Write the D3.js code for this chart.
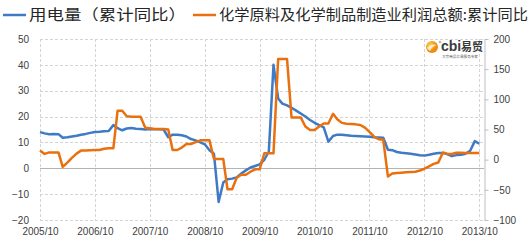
<!DOCTYPE html>
<meta charset="utf-8">
<head>
<script src="https://cdnjs.cloudflare.com/ajax/libs/d3/7.8.5/d3.min.js"></script>
<style>
	body { margin: 0; background: #fff; }
	svg text { font-family: "Liberation Sans", Arial, sans-serif; }
	.cjk { font-family: "Noto Sans CJK SC", sans-serif; }
</style>
</head>
<body>
<div id="chart"></div>
<script>

////////////////////////////////////
// DATA
////////////////////////////////////

const seriesNames = ['用电量（累计同比）', '化学原料及化学制品制造业利润总额:累计同比']

// monthly, 2005/10 .. 2013/10
const firstMonth = new Date(2005, 9, 1),
	endMonth = new Date(2013, 10, 1)

// left axis, %
const power = [
	14.0, 13.5, 13.2, 13.3, 13.2, 11.8, 12.0, 12.3, 12.6, 13.0, 13.3, 13.7,
	14.0, 14.1, 14.3, 14.4, 16.7, 15.5, 14.7, 15.4, 15.6, 15.3, 15.2, 15.0,
	15.2, 15.1, 15.1, 15.0, 12.0, 13.0, 13.0, 12.8, 12.3, 11.3, 10.8, 10.0,
	9.3, 7.0, 5.6, -13.0, -5.5, -4.2, -4.0, -3.5, -2.0, -0.8, 0.3, 0.9,
	1.5, 3.3, 6.5, 40.0, 27.0, 25.0, 24.3, 23.4, 22.3, 21.2, 20.0, 18.7,
	17.6, 16.7, 15.8, 10.3, 12.5, 13.0, 13.0, 12.8, 12.6, 12.5, 12.4, 12.3,
	12.2, 12.0, 11.9, 11.8, 7.2, 7.0, 6.3, 6.0, 5.8, 5.6, 5.3, 5.0,
	4.9, 5.2, 5.6, 5.9, 5.9, 5.5, 4.7, 5.1, 5.2, 5.6, 6.8, 10.5,
	9.5
]

// right axis, %
const chemProfit = [
	15, 9.5, 12, 12, 12, -12, -5, 3, 10, 15, 15, 15.5,
	16, 16, 18, 19, 19, 81, 81, 72, 71, 71, 71, 53,
	52, 51, 51, 51, 50, 16, 16, 20, 26, 26, 29, 32,
	32, 32, 1, 1, 1, -49, -49, -30, -25, -25, -20, -16,
	-16, 10.6, 10.6, 10.6, 167, 167, 167, 70, 70, 70, 55, 49,
	49, 55, 60, 60, 76, 67, 61, 59.5, 59, 58.5, 57.5, 53,
	46, 38, 34, 33, -28, -23, -22, -21.5, -21, -20.5, -20, -18,
	-15, -11, -7, -4.8, 12, 9.5, 9.5, 11.5, 11.3, 11, 11, 11,
	11
]

const leftTicks = [-20, -10, 0, 10, 20, 30, 40, 50]
const rightTicks = [-100, -50, 0, 50, 100, 150, 200]
const yearTicks = d3.range(2005, 2014).map(y => new Date(y, 9, 1))

////////////////////////////////////
// SETUP
////////////////////////////////////

const W = 530, H = 243
const plot = {left: 40, right: 484, top: 39, bottom: 220}
const blue = '#3f7bc4', orange = '#e9700f'

const months = d3.timeMonth.range(firstMonth, endMonth)

const svg = d3.select('#chart').append('svg')
	.attr('width', W)
	.attr('height', H)

const xScale = d3.scaleTime()
	.domain([firstMonth, endMonth])
	.range([plot.left, plot.right])

const yLeft = d3.scaleLinear()
	.domain([-20, 50])
	.range([plot.bottom, plot.top])

const yRight = d3.scaleLinear()
	.domain([-100, 200])
	.range([plot.bottom, plot.top])

////////////////////////////////////
// GRID
////////////////////////////////////

const grid = svg.append('g')

grid.selectAll('.hgrid')
	.data(leftTicks.filter(d => d !== 0))
	.enter().append('line')
	.attr('x1', plot.left)
	.attr('x2', plot.right)
	.attr('y1', d => Math.round(yLeft(d)) + 0.5)
	.attr('y2', d => Math.round(yLeft(d)) + 0.5)
	.attr('stroke', '#d4d4d4')
	.attr('stroke-dasharray', '3,2')

grid.selectAll('.vgrid')
	.data(yearTicks)
	.enter().append('line')
	.attr('x1', d => Math.round(xScale(d)) + 0.5)
	.attr('x2', d => Math.round(xScale(d)) + 0.5)
	.attr('y1', plot.top)
	.attr('y2', plot.bottom)
	.attr('stroke', '#d4d4d4')
	.attr('stroke-dasharray', '3,2')

// zero line of the left axis
grid.append('line')
	.attr('x1', plot.left)
	.attr('x2', plot.right)
	.attr('y1', Math.round(yLeft(0)) + 0.5)
	.attr('y2', Math.round(yLeft(0)) + 0.5)
	.attr('stroke', '#b3b3b3')

////////////////////////////////////
// AXES
////////////////////////////////////

const leftAxis = svg.append('g')
	.attr('transform', `translate(${plot.left},0)`)
	.call(d3.axisLeft(yLeft).tickValues(leftTicks).tickSize(0).tickPadding(11))
leftAxis.select('.domain').remove()

const rightAxis = svg.append('g')
	.attr('transform', `translate(${plot.right + 0.5},0)`)
	.call(d3.axisRight(yRight).tickValues(rightTicks).tickSize(4).tickSizeOuter(0).tickPadding(5))
rightAxis.select('.domain').attr('stroke', '#bfbfbf')
rightAxis.selectAll('.tick line').attr('stroke', '#bfbfbf')

const bottomAxis = svg.append('g')
	.attr('transform', `translate(0,${plot.bottom})`)
	.call(d3.axisBottom(xScale).tickValues(yearTicks).tickFormat(d3.timeFormat('%Y/%m')).tickSize(0).tickPadding(8))
bottomAxis.select('.domain').remove()

svg.selectAll('.tick text')
	.attr('fill', '#404040')
	.style('font-size', '10px')
	.style('font-family', '"Liberation Sans", Arial, sans-serif')

////////////////////////////////////
// LINES
////////////////////////////////////

const lineLeft = d3.line()
	.x((d, i) => xScale(months[i]))
	.y(d => yLeft(d))

const lineRight = d3.line()
	.x((d, i) => xScale(months[i]))
	.y(d => yRight(d))

svg.append('path')
	.datum(power)
	.attr('d', lineLeft)
	.attr('fill', 'none')
	.attr('stroke', blue)
	.attr('stroke-width', 2.5)
	.attr('stroke-linejoin', 'round')

svg.append('path')
	.datum(chemProfit)
	.attr('d', lineRight)
	.attr('fill', 'none')
	.attr('stroke', orange)
	.attr('stroke-width', 2.5)
	.attr('stroke-linejoin', 'round')

////////////////////////////////////
// LEGEND
////////////////////////////////////

const legendItems = [
	{name: seriesNames[0], color: blue, x: 3, len: 157},
	{name: seriesNames[1], color: orange, x: 193, len: 309}
]

const legend = svg.selectAll('.legend')
	.data(legendItems)
	.enter().append('g')
	.attr('transform', d => `translate(${d.x},15)`)

legend.append('line')
	.attr('x1', 0)
	.attr('x2', 23)
	.attr('stroke', d => d.color)
	.attr('stroke-width', 2.5)

legend.append('text')
	.attr('class', 'cjk')
	.attr('x', 26)
	.attr('y', 5)
	.attr('textLength', d => d.len)
	.attr('lengthAdjust', 'spacingAndGlyphs')
	.style('font-size', '15px')
	.attr('fill', '#262626')
	.text(d => d.name)

////////////////////////////////////
// WATERMARK
////////////////////////////////////

const logo = svg.append('g').attr('transform', 'translate(432,47)')
const grad = svg.append('defs').append('radialGradient')
	.attr('id', 'sun').attr('cx', '35%').attr('cy', '35%')
grad.append('stop').attr('offset', '0%').attr('stop-color', '#ffd34d')
grad.append('stop').attr('offset', '100%').attr('stop-color', '#f08a0c')
logo.append('circle').attr('r', 6).attr('fill', 'url(#sun)')
logo.append('path')
	.attr('d', 'M-5,1 Q-1,-4 5,-2 Q0,-1 -2,4 Z')
	.attr('fill', '#fff').attr('opacity', 0.8)
logo.append('circle').attr('cx', 8).attr('cy', -5).attr('r', 0.9)
	.attr('fill', 'none').attr('stroke', '#666').attr('stroke-width', 0.5)
logo.append('text')
	.attr('x', 9).attr('y', 4)
	.style('font-size', '14px').style('font-weight', 'bold')
	.attr('fill', '#3a3a3a')
	.text('cbi')
logo.append('text')
	.attr('class', 'cjk')
	.attr('x', 29).attr('y', 3.5)
	.style('font-size', '11px').style('font-weight', 'bold')
	.attr('fill', '#3a3a3a')
	.text('易贸')
logo.append('text')
	.attr('class', 'cjk')
	.attr('x', 10).attr('y', 11)
	.style('font-size', '3.6px')
	.attr('fill', '#555')
	.text('大宗商品交易服务专家')

</script>
</body>
